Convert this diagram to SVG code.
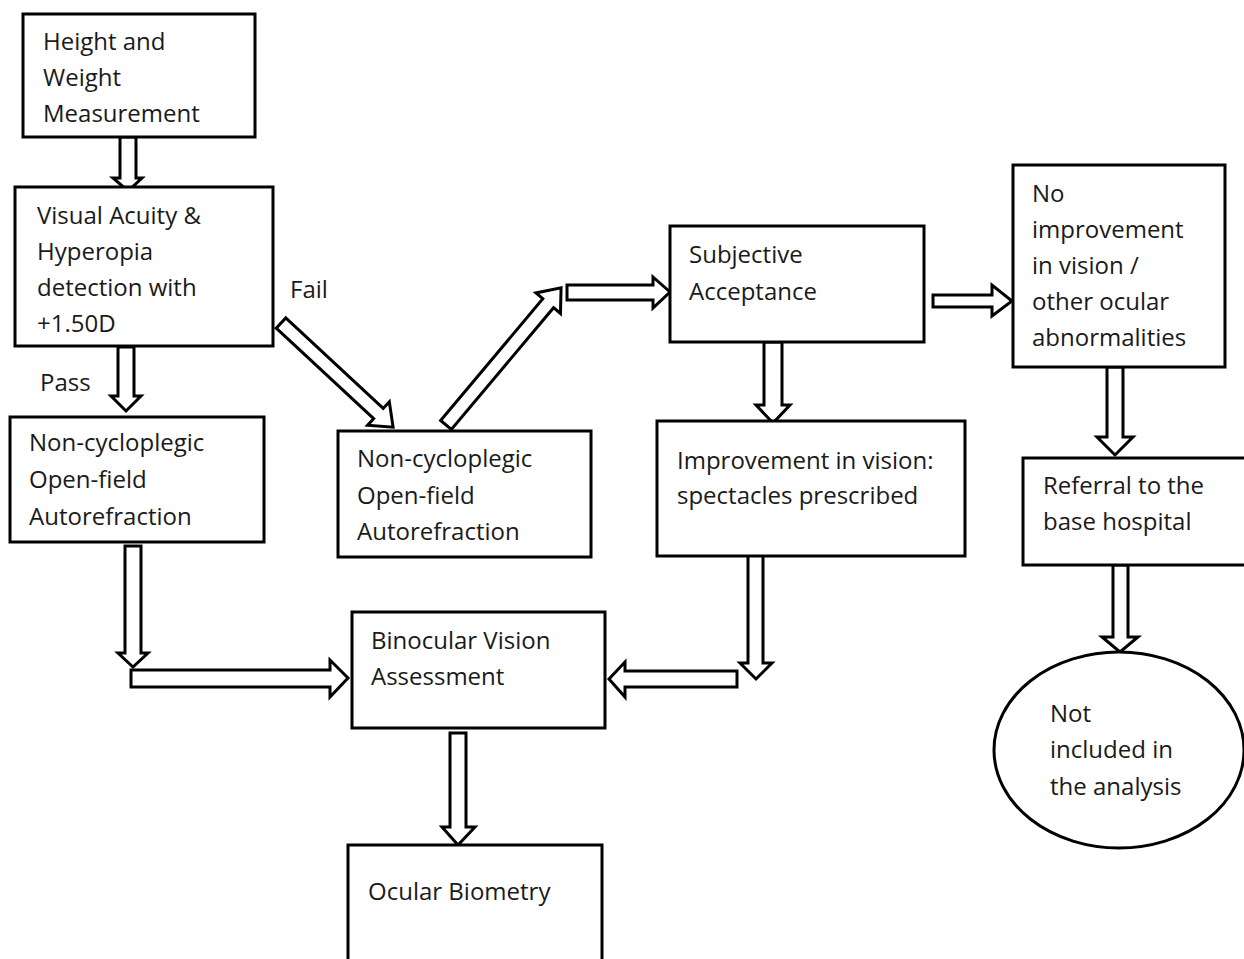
<svg xmlns="http://www.w3.org/2000/svg" width="1244" height="959" viewBox="0 0 1244 959">
<style>
.box{fill:#fff;stroke:#000;stroke-width:3}
.arr{fill:#fff;stroke:#000;stroke-width:3;stroke-linejoin:miter}
text{font-family:"Open Sans","Liberation Sans",sans-serif;font-size:24px;fill:#1a1a1a}
</style>
<rect width="1244" height="959" fill="#fff"/>
<g id="connectors">
<path class="arr" d="M120,137 H136 V178 H142 L128,191 L113,178 H120 Z"/>
<path class="arr" d="M118,347 H134 V396 H141 L126,411 L111,396 H118 Z"/>
<path class="arr" transform="translate(281,323) rotate(42.9)" d="M0,-7 H133 V-16 L153,0 L133,16 V7 H0 Z"/>
<path class="arr" transform="translate(446,425) rotate(-50)" d="M0,-7 H159 V-16 L179,0 L159,16 V7 H0 Z"/>
<path class="arr" d="M567,285 H653 V277 L670,292 L653,308 V300 H567 Z"/>
<path class="arr" d="M933,295 H992 V285 L1012,301 L992,316 V307 H933 Z"/>
<path class="arr" d="M764,342 H782 V405 H790 L773,423 L756,405 H764 Z"/>
<path class="arr" d="M1107,367 H1123 V437 H1133 L1115,455 L1097,437 H1107 Z"/>
<path class="arr" d="M1113,565 H1128 V637 H1138 L1120,652 L1102,637 H1113 Z"/>
<path class="arr" d="M125,546 H141 V653 H148 L133,667 L118,653 H125 Z"/>
<path class="arr" d="M131,670 H330 V660 L348,678 L330,697 V687 H131 Z"/>
<path class="arr" d="M748,555 H763 V663 H772 L756,679 L740,663 H748 Z"/>
<path class="arr" d="M737,671 H625 V662 L609,679 L625,697 V687 H737 Z"/>
<path class="arr" d="M450,733 H466 V827 H475 L458,845 L442,827 H450 Z"/>
</g>
<g id="n1"><rect class="box" x="23" y="14" width="232" height="123"/>
<text x="43" y="50">Height and</text><text x="43" y="86">Weight</text><text x="43" y="122">Measurement</text></g>
<g id="n2"><rect class="box" x="15" y="187" width="258" height="159"/>
<text x="37" y="224">Visual Acuity &amp;</text><text x="37" y="260">Hyperopia</text><text x="37" y="296">detection with</text><text x="37" y="332">+1.50D</text></g>
<g id="lbl-fail"><text x="290" y="298">Fail</text></g>
<g id="lbl-pass"><text x="40" y="391">Pass</text></g>
<g id="n3"><rect class="box" x="10" y="417" width="254" height="125"/>
<text x="29" y="451">Non-cycloplegic</text><text x="29" y="488">Open-field</text><text x="29" y="525">Autorefraction</text></g>
<g id="n4"><rect class="box" x="338" y="431" width="253" height="126"/>
<text x="357" y="467">Non-cycloplegic</text><text x="357" y="504">Open-field</text><text x="357" y="540">Autorefraction</text></g>
<g id="n5"><rect class="box" x="670" y="226" width="254" height="116"/>
<text x="689" y="263">Subjective</text><text x="689" y="300">Acceptance</text></g>
<g id="n6"><rect class="box" x="1013" y="165" width="212" height="202"/>
<text x="1032" y="202">No</text><text x="1032" y="238">improvement</text><text x="1032" y="274">in vision /</text><text x="1032" y="310">other ocular</text><text x="1032" y="346">abnormalities</text></g>
<g id="n7"><rect class="box" x="657" y="421" width="308" height="135"/>
<text x="677" y="469">Improvement in vision:</text><text x="677" y="504">spectacles prescribed</text></g>
<g id="n8"><rect class="box" x="1023" y="458" width="224" height="107"/>
<text x="1043" y="494">Referral to the</text><text x="1043" y="530">base hospital</text></g>
<g id="n9"><rect class="box" x="352" y="612" width="253" height="116"/>
<text x="371" y="649">Binocular Vision</text><text x="371" y="685">Assessment</text></g>
<g id="n10"><rect class="box" x="348" y="845" width="254" height="120"/>
<text x="368" y="900">Ocular Biometry</text></g>
<g id="n11"><ellipse class="box" cx="1119" cy="750" rx="125" ry="98"/>
<text x="1050" y="722">Not</text><text x="1050" y="758">included in</text><text x="1050" y="795">the analysis</text></g>
</svg>
